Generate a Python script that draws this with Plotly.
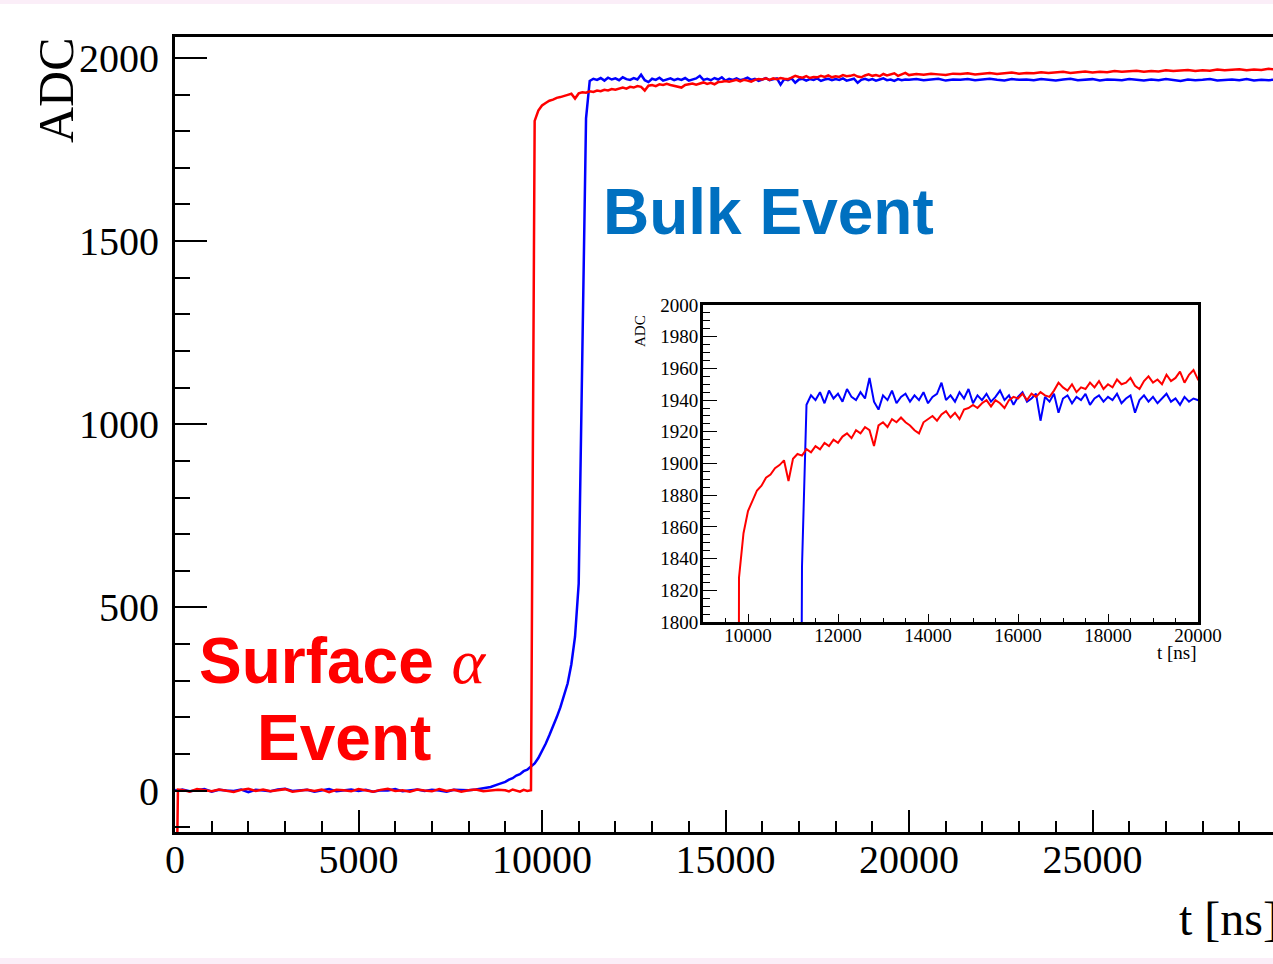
import plotly.graph_objects as go

# ---------------- data ----------------
# sampling grid of the digitised waveform (ns)
t_early = [0, 80] + list(range(200, 9000, 200))
t_mid = list(range(9000, 20000, 100))
t_late = list(range(20000, 30001, 200))

red_early = [-600, 3,
             2, -3, 4, 1, -2, 3, 0, -4, 2, 5, -1, 3, -2, 1, 4, -3, 0, 2, -1, 3, -4, 2,
             1, -2, 4, 0, -3, 2, 5, -1, 1, -3, 3, 0, -2, 4, -1, 2, -3, 1, 3, -2, 0, 2]
red_mid = [1, -2, 3, 0, -3, 2, -1, 1,
           1828, 1856, 1870, 1877, 1883, 1886, 1891, 1893, 1897, 1899,
           1902, 1889, 1903, 1906, 1905, 1909, 1907, 1911, 1909, 1913,
           1911, 1915, 1913, 1917, 1919, 1916, 1921, 1919, 1923, 1921,
           1911, 1924, 1926, 1923, 1928, 1926, 1929, 1926, 1924, 1921,
           1919, 1926, 1928, 1930, 1927, 1931, 1933, 1929, 1932, 1928,
           1934, 1935, 1937, 1935, 1938, 1940, 1936, 1940, 1938, 1935,
           1940, 1942, 1941, 1944, 1940, 1944, 1942, 1945, 1943, 1942,
           1946, 1951, 1948, 1946, 1950, 1945, 1948, 1947, 1951, 1948,
           1952, 1947, 1950, 1948, 1953, 1950, 1951, 1954, 1949, 1947,
           1952, 1955, 1951, 1953, 1950, 1956, 1952, 1954, 1958, 1951,
           1956, 1959]
red_late = [1953, 1956, 1954, 1957, 1955, 1953, 1957, 1956, 1958, 1955,
            1957, 1959, 1956, 1958, 1960, 1957, 1959, 1958, 1961, 1959,
            1960, 1962, 1959, 1961, 1963, 1960, 1962, 1961, 1964, 1962,
            1963, 1965, 1962, 1964, 1963, 1966, 1964, 1965, 1967, 1964,
            1966, 1965, 1968, 1966, 1967, 1969, 1966, 1968, 1967, 1970,
            1968]

blue_early = [2, -1,
              3, -2, 1, 4, -3, 2, 0, -1, 3, -4, 2, 1, -2, 3, 5, -1, 0, 2, -3, 1,
              4, -2, 0, 3, -1, 2, -3, 1, 0, 4, -2, 1, 3, -1, 2, 0, -3, 2, 1,
              1, 3, 6, 10, 17]
blue_mid = [24, 30, 34, 41, 45, 53, 57, 66, 74, 89,
            108, 128, 151, 174, 200, 227, 258, 293, 345, 420,
            565, 1180, 1835, 1937,
            1943, 1940, 1945, 1938, 1946, 1941, 1944, 1939, 1947, 1942,
            1940, 1945, 1941, 1954, 1939, 1934, 1943, 1940, 1946, 1938,
            1942, 1944, 1939, 1943, 1940, 1945, 1938, 1942, 1944, 1951,
            1940, 1943, 1939, 1945, 1941, 1947, 1938, 1943, 1940, 1944,
            1939, 1942, 1946, 1940, 1943, 1937, 1942, 1945, 1939, 1941,
            1944, 1927, 1942, 1939, 1944, 1932, 1941, 1943, 1938, 1942,
            1940, 1944, 1937, 1941, 1943, 1939, 1942, 1940, 1944, 1938,
            1941, 1943, 1932, 1940, 1943, 1939, 1942, 1938, 1941, 1944,
            1939, 1941, 1937, 1942, 1939, 1941]
blue_late = [1940, 1942, 1939, 1941, 1943, 1938, 1941, 1940, 1942, 1939,
             1941, 1943, 1940, 1938, 1942, 1940, 1941, 1939, 1942, 1940,
             1938, 1941, 1943, 1939, 1940, 1942, 1938, 1941, 1940, 1939,
             1942, 1940, 1938, 1941, 1939, 1942, 1940, 1937, 1941, 1939,
             1940, 1942, 1938, 1940, 1941, 1939, 1942, 1938, 1940, 1939,
             1941]

main_xticks = [0, 5000, 10000, 15000, 20000, 25000]
main_yticks = [0, 500, 1000, 1500, 2000]
inset_xticks = [10000, 12000, 14000, 16000, 18000, 20000]
inset_yticks = list(range(1800, 2001, 20))

assert len(red_early) == len(t_early) == len(blue_early)
assert len(red_mid) == len(t_mid) == len(blue_mid)
assert len(red_late) == len(t_late) == len(blue_late)

t_all = t_early + t_mid + t_late
red = red_early + red_mid + red_late
blue = blue_early + blue_mid + blue_late

# ---------------- layout geometry ----------------
W, H = 1273, 964
L, R, T, B = 175, 0, 37, 132
PW, PH = W - L - R, H - T - B


def px_x(p):
    return (p - L) / PW


def px_y(p):
    return (H - B - p) / PH


SERIF = "Liberation Serif"
SANS = "Liberation Sans"
BLUE, RED = "#0000ff", "#ff0000"

fig = go.Figure()
for yv, col in ((blue, BLUE), (red, RED)):
    fig.add_trace(go.Scatter(x=t_all, y=yv, mode="lines",
                             line=dict(color=col, width=2.5),
                             xaxis="x", yaxis="y", showlegend=False,
                             hoverinfo="skip"))
for yv, col in ((blue, BLUE), (red, RED)):
    fig.add_trace(go.Scatter(x=t_all, y=yv, mode="lines",
                             line=dict(color=col, width=2),
                             xaxis="x2", yaxis="y2", showlegend=False,
                             hoverinfo="skip"))

inset_x0, inset_x1 = px_x(703), px_x(1198)
inset_y0, inset_y1 = px_y(622), px_y(305)

fig.update_layout(
    width=W, height=H, autosize=False,
    margin=dict(l=L, r=R, t=T, b=B, pad=0, autoexpand=False),
    paper_bgcolor="white", plot_bgcolor="white",
    font=dict(family=SERIF, color="black"),
    xaxis=dict(domain=[0, 1], range=[0, 29918], anchor="y", automargin=False,
               showline=True, linecolor="black", linewidth=3, mirror=True,
               ticks="inside", ticklen=22, tickwidth=1.6, tickcolor="black",
               tickvals=main_xticks, tickformat="d", ticklabelstandoff=-10,
               minor=dict(dtick=1000, tick0=0, ticks="inside", ticklen=11,
                          tickwidth=1.6, tickcolor="black", showgrid=False),
               showgrid=False, zeroline=False,
               tickfont=dict(family=SERIF, size=40, color="black")),
    yaxis=dict(domain=[0, 1], range=[-113, 2057], anchor="x", automargin=False,
               showline=True, linecolor="black", linewidth=3, mirror=False,
               ticks="inside", ticklen=32, tickwidth=1.6, tickcolor="black",
               tickvals=main_yticks, tickformat="d", ticklabelstandoff=5,
               minor=dict(dtick=100, tick0=0, ticks="inside", ticklen=15,
                          tickwidth=1.6, tickcolor="black", showgrid=False),
               showgrid=False, zeroline=False,
               tickfont=dict(family=SERIF, size=40, color="black")),
    xaxis2=dict(domain=[inset_x0, inset_x1], range=[9000, 20000], anchor="y2",
                automargin=False,
                showline=True, linecolor="black", linewidth=3, mirror=True,
                ticks="inside", ticklen=8, tickwidth=1.3, tickcolor="black",
                tickvals=inset_xticks, tickformat="d", ticklabelstandoff=-6,
                minor=dict(dtick=500, tick0=0, ticks="inside", ticklen=4,
                           tickwidth=1.3, tickcolor="black", showgrid=False),
                showgrid=False, zeroline=False,
                tickfont=dict(family=SERIF, size=19, color="black")),
    yaxis2=dict(domain=[inset_y0, inset_y1], range=[1800, 2000], anchor="x2",
                automargin=False,
                showline=True, linecolor="black", linewidth=3, mirror=True,
                ticks="inside", ticklen=14, tickwidth=1.3, tickcolor="black",
                tickvals=inset_yticks, tickformat="d", ticklabelstandoff=-2,
                minor=dict(dtick=5, tick0=1800, ticks="inside", ticklen=7,
                           tickwidth=1.3, tickcolor="black", showgrid=False),
                showgrid=False, zeroline=False,
                tickfont=dict(family=SERIF, size=19, color="black")),
)

ann = [
    dict(text="ADC", x=px_x(56), y=px_y(90), textangle=-90,
         font=dict(family=SERIF, size=50, color="black"),
         xanchor="center", yanchor="middle"),
    dict(text="t [ns]", x=px_x(1281), y=px_y(918),
         font=dict(family=SERIF, size=48, color="black"),
         xanchor="right", yanchor="middle"),
    dict(text="ADC", x=px_x(640), y=px_y(331), textangle=-90,
         font=dict(family=SERIF, size=15, color="black"),
         xanchor="center", yanchor="middle"),
    dict(text="t [ns]", x=px_x(1199), y=px_y(652),
         font=dict(family=SERIF, size=19, color="black"),
         xanchor="right", yanchor="middle"),
    dict(text="<b>Bulk Event</b>", x=px_x(601), y=px_y(212),
         font=dict(family=SANS, size=64, color="#0070c0"),
         xanchor="left", yanchor="middle"),
    dict(text="<b>Surface</b> <i style='font-family:Liberation Serif'>α</i>",
         x=px_x(343), y=px_y(661),
         font=dict(family=SANS, size=64, color=RED),
         xanchor="center", yanchor="middle"),
    dict(text="<b>Event</b>", x=px_x(344), y=px_y(738),
         font=dict(family=SANS, size=64, color=RED),
         xanchor="center", yanchor="middle"),
]
for a in ann:
    a.update(xref="paper", yref="paper", showarrow=False)
fig.update_layout(annotations=ann)

PINK = "#fbeef8"
fig.update_layout(shapes=[
    dict(type="rect", xref="paper", yref="paper", x0=px_x(0), x1=px_x(W),
         y0=px_y(4), y1=px_y(0), fillcolor=PINK, line=dict(width=0),
         layer="below"),
    dict(type="rect", xref="paper", yref="paper", x0=px_x(0), x1=px_x(W),
         y0=px_y(H), y1=px_y(958), fillcolor=PINK, line=dict(width=0),
         layer="below"),
])

fig.write_html(
    "out.html",
    config={"responsive": False, "displayModeBar": False},
    post_script="document.body.style.margin='0';"
                "document.body.style.overflow='hidden';",
)
